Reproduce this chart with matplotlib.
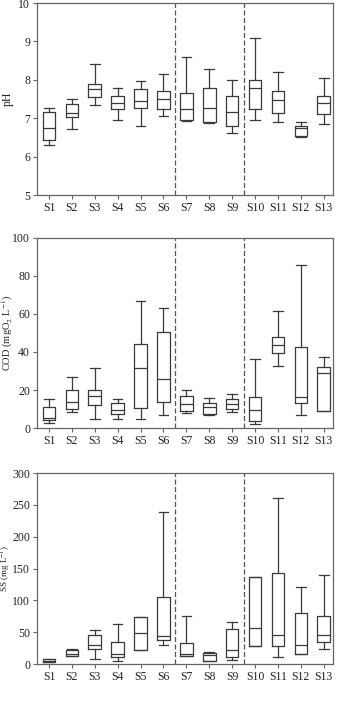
import matplotlib
matplotlib.use("Agg")
import matplotlib.pyplot as plt

# --------------------------
# Data
# --------------------------
SITES = ["S1", "S2", "S3", "S4", "S5", "S6", "S7", "S8", "S9", "S10", "S11", "S12", "S13"]

# pH: whisker low, q1, median, q3, whisker high
PH_LOW = [6.30, 6.71, 7.34, 6.96, 6.81, 7.07, 6.94, 6.87, 6.61, 6.96, 6.89, 6.52, 6.85]
PH_Q1 = [6.42, 7.03, 7.54, 7.23, 7.26, 7.24, 6.96, 6.89, 6.79, 7.24, 7.13, 6.54, 7.10]
PH_MED = [6.74, 7.13, 7.77, 7.40, 7.44, 7.50, 7.23, 7.26, 7.15, 7.79, 7.48, 6.74, 7.39]
PH_Q3 = [7.15, 7.37, 7.90, 7.57, 7.76, 7.70, 7.66, 7.78, 7.57, 8.00, 7.70, 6.81, 7.57]
PH_HIGH = [7.26, 7.50, 8.41, 7.79, 7.97, 8.14, 8.60, 8.28, 7.99, 9.10, 8.20, 6.89, 8.06]

# COD (mgO2/L)
COD_LOW = [2.8, 8.4, 4.6, 4.6, 4.9, 7.0, 8.1, 7.0, 8.4, 2.1, 32.6, 7.0, 8.9]
COD_Q1 = [4.2, 10.2, 11.9, 7.2, 10.4, 13.7, 9.1, 7.4, 10.2, 3.5, 39.3, 13.0, 9.1]
COD_MED = [5.4, 13.7, 17.0, 9.5, 31.6, 25.8, 12.6, 10.9, 12.6, 9.5, 43.5, 16.2, 28.8]
COD_Q3 = [10.9, 20.2, 19.8, 13.2, 44.0, 50.7, 16.8, 13.3, 15.1, 16.5, 47.7, 42.5, 32.1]
COD_HIGH = [15.1, 27.0, 31.7, 15.1, 66.8, 63.3, 20.0, 15.8, 17.9, 36.5, 61.8, 85.8, 37.4]

# SS (mg/L)
SS_LOW = [3.0, 12.0, 8.4, 5.2, 22.0, 29.3, 12.0, 5.0, 6.3, 28.3, 11.5, 15.0, 23.0]
SS_Q1 = [3.1, 12.6, 23.0, 10.5, 22.0, 37.7, 12.6, 5.2, 10.5, 28.3, 28.3, 15.7, 34.6]
SS_MED = [5.2, 15.7, 29.3, 15.7, 48.2, 44.0, 15.7, 14.7, 22.0, 56.0, 45.0, 29.3, 45.0]
SS_Q3 = [7.3, 22.0, 46.0, 34.6, 74.3, 104.7, 33.5, 17.8, 54.5, 136.0, 143.4, 79.6, 75.4]
SS_HIGH = [8.4, 23.0, 53.4, 62.8, 74.3, 238.0, 75.4, 18.8, 66.0, 136.0, 260.0, 121.4, 140.3]

# --------------------------
# Style
# --------------------------
plt.rcParams["font.family"] = ["Liberation Serif", "DejaVu Serif"]
plt.rcParams["font.size"] = 8.5
plt.rcParams["mathtext.fontset"] = "stix"

SPINE_COLOR = "#666666"
BOX_COLOR = "#3a3a3a"

PANELS = [
    # (bottom, top) in figure fraction, ylim, yticks, ylabel, label x, label size
    ((0.7222, 0.9957), (5, 10), [5, 6, 7, 8, 9, 10], "pH", -0.078, 8.5,
     (PH_LOW, PH_Q1, PH_MED, PH_Q3, PH_HIGH)),
    ((0.3903, 0.6610), (0, 100), [0, 20, 40, 60, 80, 100],
     r"COD (mgO$_2$ L$^{-1}$)", -0.074, 7.5,
     (COD_LOW, COD_Q1, COD_MED, COD_Q3, COD_HIGH)),
    ((0.0541, 0.3262), (0, 300), [0, 50, 100, 150, 200, 250, 300],
     r"SS (mg L$^{-1}$)", -0.080, 6.5,
     (SS_LOW, SS_Q1, SS_MED, SS_Q3, SS_HIGH)),
]


def make_stats(low, q1, med, q3, high):
    stats = []
    for i in range(len(SITES)):
        stats.append({
            "whislo": low[i], "q1": q1[i], "med": med[i],
            "q3": q3[i], "whishi": high[i], "fliers": [],
        })
    return stats


fig = plt.figure(figsize=(3.40, 7.02), dpi=100)
left, right = 0.109, 0.979

for (bot, top), ylim, yticks, ylabel, labx, labsize, series in PANELS:
    ax = fig.add_axes([left, bot, right - left, top - bot])
    line_kw = dict(color=BOX_COLOR, linewidth=0.9)
    ax.bxp(make_stats(*series), positions=range(1, len(SITES) + 1),
           widths=0.55, capwidths=0.42, showfliers=False,
           boxprops=line_kw, whiskerprops=line_kw, capprops=line_kw,
           medianprops=line_kw)

    # dashed separators between site groups
    for xv in (6.5, 9.5):
        ax.axvline(xv, color="#555555", linestyle=(0, (4, 2)), linewidth=0.9)

    ax.set_xlim(0.48, 13.4)
    ax.set_ylim(*ylim)
    ax.set_yticks(yticks)
    ax.set_xticks(range(1, len(SITES) + 1))
    ax.set_xticklabels(SITES)
    ax.tick_params(axis="both", length=3, width=0.8, color=SPINE_COLOR,
                   pad=2, labelcolor="#222222")
    for sp in ax.spines.values():
        sp.set_color(SPINE_COLOR)
        sp.set_linewidth(0.9)
    ax.set_ylabel(ylabel, color="#222222", fontsize=labsize)
    ax.yaxis.set_label_coords(labx, 0.5)

fig.savefig("out.png", dpi=100)
